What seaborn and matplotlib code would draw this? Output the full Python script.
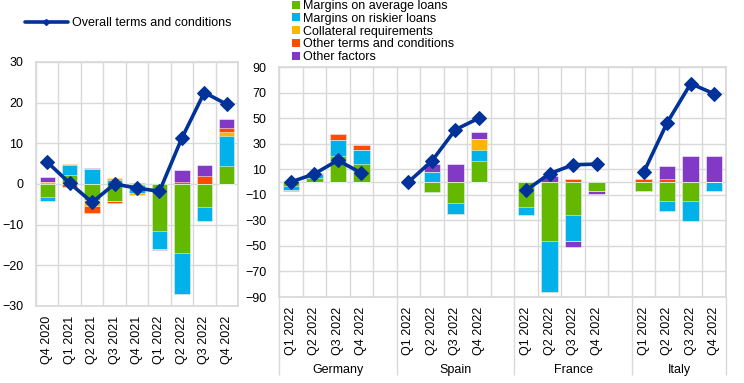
"""
Bank lending terms and conditions: contributions of individual factors,
euro area (left) and the four largest countries (right).
"""

import numpy as np
import pandas as pd
import seaborn as sns
from matplotlib import pyplot as plt
from matplotlib.lines import Line2D
from matplotlib.patches import Patch

FACTORS = ["Margins on average loans", "Margins on riskier loans",
           "Collateral requirements", "Other terms and conditions",
           "Other factors"]
COLOURS = ["#65b800", "#00b1ea", "#ffb400", "#ff4b00", "#8139c6"]
LINE_COLOUR = "#003299"
GRID = "#d9d9d9"

# euro area, Q4 2020 - Q4 2022
ea_quarters = ["Q4 2020", "Q1 2021", "Q2 2021", "Q3 2021", "Q4 2021",
               "Q1 2022", "Q2 2022", "Q3 2022", "Q4 2022"]
ea_average = [-3.2, 2.2, -3.9, -4.3, -0.2, -11.6, -17.0, -5.7, 4.5]
ea_riskier = [-1.1, 2.4, 3.6, 1.1, -2.0, -4.4, -10.0, -3.3, 7.4]
ea_collateral = [0.4, 0.2, -1.6, 0.3, -0.4, 0.0, 0.0, 0.0, 0.9]
ea_other_terms = [0.0, -0.7, -1.6, -0.3, 0.0, 0.0, 0.6, 2.0, 0.9]
ea_other_factors = [1.2, 0.2, 0.3, 0.1, 0.3, -0.3, 2.8, 2.7, 2.3]
ea_overall = [5.4, 0.2, -4.5, 0.0, -1.0, -1.8, 11.3, 22.5, 19.6]

# countries, Q1 - Q4 2022 for Germany, Spain, France, Italy
countries = ["Germany", "Spain", "France", "Italy"]
cty_quarters = ["Q1 2022", "Q2 2022", "Q3 2022", "Q4 2022"]
cty_average = [-3.0, 3.0, 20.0, 14.0,
               0.0, -8.0, -16.5, 16.5,
               -19.5, -46.0, -26.0, -7.0,
               -7.0, -15.0, -15.0, 0.0]
cty_riskier = [-3.0, 3.0, 13.0, 11.0,
               0.0, 8.0, -8.5, 8.5,
               -6.5, -40.0, -20.0, 0.0,
               0.0, -7.5, -15.5, -7.0]
cty_collateral = [0.0, 0.0, 0.0, 0.0,
                  0.0, 0.0, 0.0, 8.5,
                  0.0, 0.0, 0.0, 0.0,
                  0.0, 0.0, 0.0, 0.0]
cty_other_terms = [-1.3, 1.0, 4.5, 3.7,
                   0.0, 0.0, 0.0, 0.0,
                   0.0, 0.0, 2.5, 0.0,
                   2.5, 2.0, 0.0, 0.0]
cty_other_factors = [0.0, 0.0, 0.0, 0.0,
                     0.0, 6.0, 14.0, 5.5,
                     0.0, 4.5, -4.5, -2.3,
                     0.0, 10.5, 20.0, 20.0]
cty_overall = [0.0, 6.3, 17.0, 7.0,
               0.0, 16.5, 41.0, 50.0,
               -6.5, 6.5, 13.5, 14.0,
               7.5, 46.5, 77.0, 69.0]


def stack_frame(slots, series):
    """Long frame with the cumulative tops of positive and negative parts."""
    rows = []
    for name, values in zip(FACTORS, series):
        for slot, v in zip(slots, values):
            rows.append((slot, name, v))
    df = pd.DataFrame(rows, columns=["slot", "factor", "value"])
    df["pos_top"] = df["value"].clip(lower=0).groupby(df["slot"]).cumsum()
    df["neg_top"] = df["value"].clip(upper=0).groupby(df["slot"]).cumsum()
    return df


def draw_bars(ax, df, width):
    # outermost segment first, inner segments are painted over it
    for name, colour in reversed(list(zip(FACTORS, COLOURS))):
        layer = df[df["factor"] == name]
        for col in ["pos_top", "neg_top"]:
            sns.barplot(data=layer, x="slot", y=col, color=colour,
                        saturation=1, native_scale=True, width=width,
                        errorbar=None, edgecolor=(1, 1, 1, 0.6),
                        linewidth=0.6, ax=ax)


def draw_line(ax, df):
    sns.lineplot(data=df, x="slot", y="overall", units="group",
                 estimator=None, sort=True, color=LINE_COLOUR, lw=2.6,
                 marker="D", markersize=7, markeredgecolor=LINE_COLOUR,
                 legend=False, ax=ax)


def style_axis(ax, n_slots):
    ax.set_xlim(-0.5, n_slots - 0.5)
    ax.set_xticks(np.arange(-0.5, n_slots, 1), minor=True)
    ax.grid(which="minor", axis="x", color=GRID, lw=1)
    ax.grid(which="major", axis="x", visible=False)
    ax.grid(which="major", axis="y", color=GRID, lw=1)
    ax.set_axisbelow(True)
    ax.tick_params(which="both", length=0)
    ax.tick_params(axis="y", pad=9)
    ax.tick_params(axis="x", pad=7)
    ax.set_xlabel("")
    ax.set_ylabel("")
    for spine in ax.spines.values():
        spine.set_color(GRID)


sns.set_theme(style="whitegrid")
plt.rcParams["font.family"] = ["Liberation Sans", "DejaVu Sans"]
plt.rcParams["font.size"] = 9
plt.rcParams["text.color"] = "black"
plt.rcParams["xtick.color"] = "black"
plt.rcParams["ytick.color"] = "black"

fig = plt.figure(figsize=(7.44, 3.83), dpi=100)

# left panel: euro area
ax1 = fig.add_axes([36 / 744, 1 - 306 / 383, 202 / 744, 244 / 383])
ea_slots = list(range(len(ea_quarters)))
ea_df = stack_frame(ea_slots, [ea_average, ea_riskier, ea_collateral,
                               ea_other_terms, ea_other_factors])
draw_bars(ax1, ea_df, 0.68)
ea_line = pd.DataFrame({"slot": ea_slots, "overall": ea_overall,
                        "group": "euro area"})
draw_line(ax1, ea_line)
style_axis(ax1, len(ea_quarters))
ax1.set_ylim(-30, 30)
ax1.set_yticks(range(-30, 31, 10))
ax1.set_xticks(ea_slots)
ax1.set_xticklabels(ea_quarters, rotation=90, fontsize=9)
ax1.tick_params(axis="y", labelsize=9)

# right panel: countries, four quarters plus a blank slot per country
ax2 = fig.add_axes([279 / 744, 1 - 297 / 383, 447 / 744, 230 / 383])
cty_slots, cty_group = [], []
for i, c in enumerate(countries):
    for j in range(len(cty_quarters)):
        cty_slots.append(i * 5 + j)
        cty_group.append(c)
n_right = len(countries) * 5 - 1
cty_df = stack_frame(cty_slots, [cty_average, cty_riskier, cty_collateral,
                                 cty_other_terms, cty_other_factors])
draw_bars(ax2, cty_df, 0.7)
cty_line = pd.DataFrame({"slot": cty_slots, "overall": cty_overall,
                         "group": cty_group})
draw_line(ax2, cty_line)
style_axis(ax2, n_right)
ax2.axhline(0, color=GRID, lw=1, zorder=0.5)
ax2.set_ylim(-90, 90)
ax2.set_yticks(range(-90, 91, 20))
ax2.set_xticks(cty_slots)
ax2.set_xticklabels(cty_quarters * len(countries), rotation=90, fontsize=9)
ax2.tick_params(axis="y", labelsize=9)

# country separators reaching down past the quarter labels
edges = [-0.5] + [i * 5 + 4.5 for i in range(len(countries) - 1)] + [n_right - 0.5]
ax2.vlines(edges, -0.34, 0, transform=ax2.get_xaxis_transform(),
           clip_on=False, color=GRID, lw=1)
for left, right, c in zip(edges[:-1], edges[1:], countries):
    ax2.text((left + right) / 2, -0.317, c, ha="center", va="center",
             fontsize=9, transform=ax2.get_xaxis_transform())

# legends
line_handle = [Line2D([], [], color=LINE_COLOUR, lw=2.6, marker="D",
                      markersize=3)]
fig.legend(line_handle, ["Overall terms and conditions"], loc="center left",
           bbox_to_anchor=(25 / 744, 1 - 23 / 383), frameon=False,
           borderpad=0, borderaxespad=0, handlelength=3.4,
           handletextpad=0.4, fontsize=9)
bar_handles = [Patch(facecolor=c, edgecolor="none") for c in COLOURS]
fig.legend(bar_handles, FACTORS, loc="upper left",
           bbox_to_anchor=(292 / 744, 1.0), frameon=False, borderpad=0,
           borderaxespad=0, handlelength=0.6, handleheight=0.6,
           handletextpad=0.25, labelspacing=0.06, fontsize=9)

fig.savefig("out.png", dpi=100)
